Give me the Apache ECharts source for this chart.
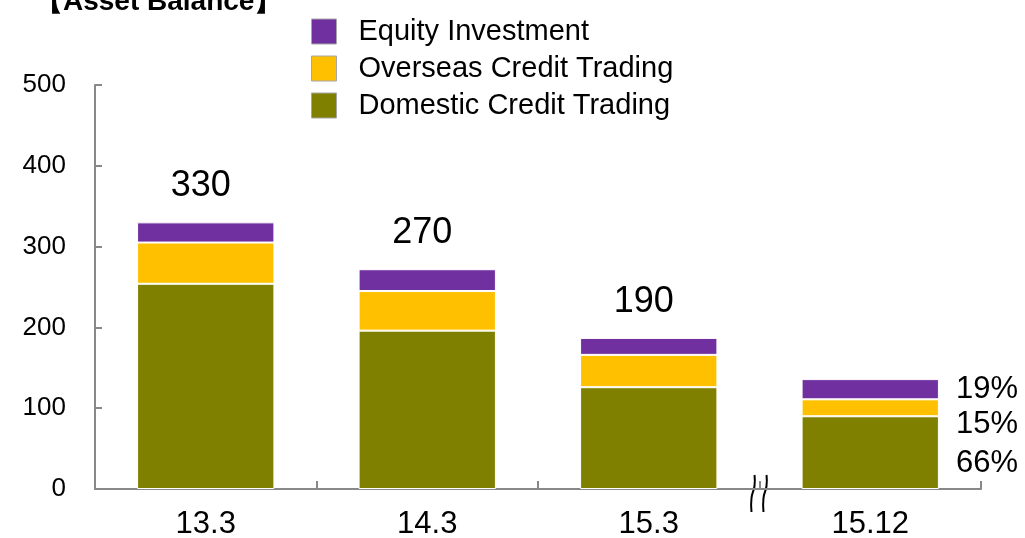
<!DOCTYPE html>
<html>
<head>
<meta charset="utf-8">
<script src="https://cdn.jsdelivr.net/npm/echarts@6/dist/echarts.min.js"></script>
<style>
  html, body { margin: 0; padding: 0; background: #fff; }
  #main { width: 1025px; height: 538px; }
</style>
</head>
<body>
<div id="main"></div>
<script>
var categories = ['13.3', '14.3', '15.3', '15.12'];
var domestic = [254, 196, 126, 90];
var overseas = [51, 49, 40, 21];
var equity = [25, 27, 21, 25];
var totalLabels = ['330', '270', '190', '140'];
var shareLabels = { equity: '19%', overseas: '15%', domestic: '66%' };
var yTicks = [0, 100, 200, 300, 400, 500];

(function(){
	var chart = echarts.init(document.getElementById('main'));
	var font = '"Liberation Sans", Arial, sans-serif';

	// last bar carries the share labels on its right side
	function withShare(values, text, dy) {
		return values.map(function(v, i){
			if (i != values.length - 1) return v;
			return {
				value: v,
				label: {
					show: true,
					position: 'right',
					distance: 17,
					offset: [0, dy],
					formatter: text,
					fontSize: 31,
					color: '#000',
					fontFamily: font
				}
			};
		});
	}

	var option = {
		backgroundColor: '#fff',
		animation: false,
		title: {
			text: '【Asset Balance】',
			left: 30,
			top: -17,
			textStyle: { fontSize: 28, fontWeight: 'bold', color: '#000', fontFamily: font }
		},
		legend: {
			orient: 'vertical',
			left: 306,
			top: 12,
			itemWidth: 25,
			itemHeight: 25,
			itemGap: 8,
			icon: 'rect',
			itemStyle: { borderColor: '#a6a6a6', borderWidth: 1 },
			textStyle: { fontSize: 29, color: '#000', fontFamily: font, padding: [0, 0, 0, 17] },
			data: ['Equity Investment', 'Overseas Credit Trading', 'Domestic Credit Trading']
		},
		grid: { left: 95, right: 44, top: 85, bottom: 49, containLabel: false, outerBoundsMode: 'none' },
		xAxis: {
			type: 'category',
			data: categories,
			axisLine: { lineStyle: { color: '#888', width: 2 } },
			axisTick: { show: true, inside: true, length: 8, lineStyle: { color: '#888', width: 2 } },
			axisLabel: { fontSize: 31, color: '#000', margin: 20, fontFamily: font }
		},
		yAxis: {
			type: 'value',
			min: yTicks[0],
			max: yTicks[yTicks.length - 1],
			interval: 100,
			splitLine: { show: false },
			axisLine: { show: true, lineStyle: { color: '#888', width: 2 } },
			axisTick: { show: true, inside: true, length: 7, lineStyle: { color: '#888', width: 2 } },
			axisLabel: { fontSize: 26, color: '#000', margin: 29, fontFamily: font }
		},
		series: [{
			name: 'Domestic Credit Trading',
			type: 'bar',
			stack: 'asset',
			barWidth: '62%',
			itemStyle: { color: '#808000', borderColor: '#fff', borderWidth: 1 },
			data: withShare(domestic, shareLabels.domestic, 11)
		}, {
			name: 'Overseas Credit Trading',
			type: 'bar',
			stack: 'asset',
			itemStyle: { color: '#ffc000', borderColor: '#fff', borderWidth: 1 },
			data: withShare(overseas, shareLabels.overseas, 17)
		}, {
			name: 'Equity Investment',
			type: 'bar',
			stack: 'asset',
			itemStyle: { color: '#7030a0', borderColor: '#fff', borderWidth: 1 },
			label: {
				show: true,
				position: 'top',
				distance: 18,
				offset: [-5, 0],
				fontSize: 36,
				color: '#000',
				fontFamily: font,
				formatter: function(p){ return totalLabels[p.dataIndex]; }
			},
			data: withShare(equity, shareLabels.equity, 0)
		}]
	};

	chart.setOption(option);

	// axis break mark between the last two categories
	var p2 = chart.convertToPixel({ gridIndex: 0 }, [2, 0]);
	var p3 = chart.convertToPixel({ gridIndex: 0 }, [3, 0]);
	var bx = (p2[0] + p3[0]) / 2;
	var by = p2[1];
	function slash(x) {
		return {
			type: 'polyline',
			shape: { points: [[x + 1, by - 14], [x + 1, by - 3], [x - 2, by + 9], [x - 2, by + 23]], smooth: 0.5 },
			style: { stroke: '#000', lineWidth: 2, fill: null }
		};
	}
	chart.setOption({
		graphic: [
			{ type: 'rect', shape: { x: bx - 5, y: by - 3, width: 10, height: 6 }, style: { fill: '#fff' } },
			slash(bx - 6),
			slash(bx + 6)
		]
	});
})();
</script>
</body>
</html>
